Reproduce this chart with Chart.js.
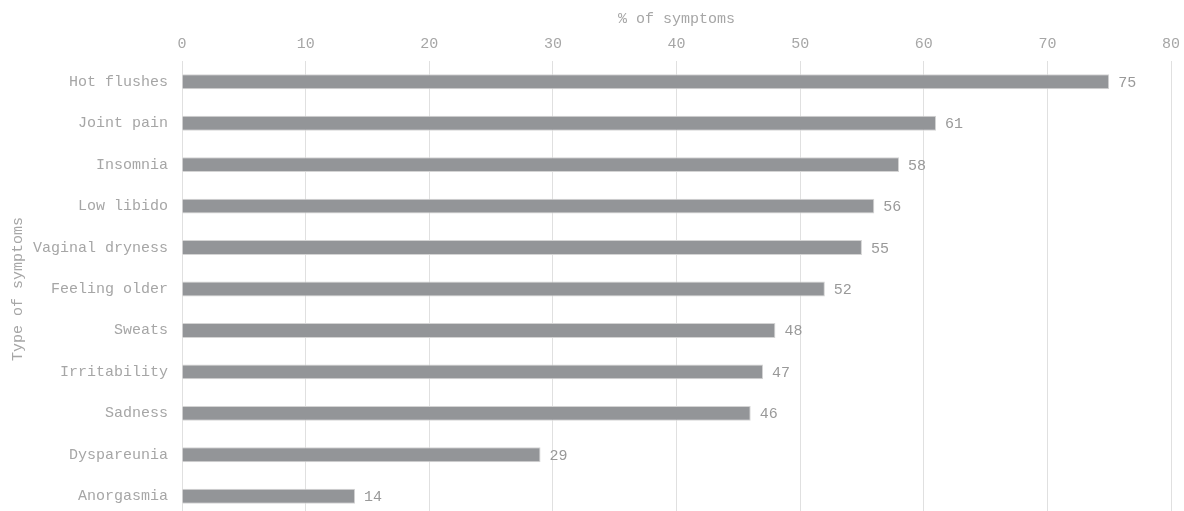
<!DOCTYPE html>
<html>
<head>
<meta charset="utf-8">
<script src="https://cdn.jsdelivr.net/npm/chart.js@4"></script>
<style>
  html, body { margin: 0; padding: 0; background: #fff; overflow: hidden; }
</style>
</head>
<body>
<canvas id="chart" width="1184" height="540"></canvas>
<script>
const symptoms = ['Hot flushes', 'Joint pain', 'Insomnia', 'Low libido', 'Vaginal dryness',
    'Feeling older', 'Sweats', 'Irritability', 'Sadness', 'Dyspareunia', 'Anorgasmia'];
const percentages = [75, 61, 58, 56, 55, 52, 48, 47, 46, 29, 14];
const xMin = 0, xMax = 80, xStep = 10;

const fontFamily = "'Liberation Mono', 'Courier New', monospace";
const textColor = '#a6a6a6';

// draws the value right after each bar
const valueLabels = {
    id: 'valueLabels',
    afterDatasetsDraw(chart) {
        const ctx = chart.ctx;
        ctx.save();
        ctx.font = '15px ' + fontFamily;
        ctx.fillStyle = '#999999';
        ctx.textAlign = 'left';
        ctx.textBaseline = 'middle';
        chart.getDatasetMeta(0).data.forEach((bar, i) => {
            ctx.fillText(percentages[i], bar.x + 9, bar.y + 1);
        });
        ctx.restore();
    }
};

new Chart(document.getElementById('chart'), {
    type: 'bar',
    data: {
        labels: symptoms,
        datasets: [{
            label: '% of symptoms',
            data: percentages,
            backgroundColor: '#939598',
            borderColor: '#d4d4d4',
            borderWidth: 1,
            barPercentage: 0.36,
            categoryPercentage: 1
        }]
    },
    options: {
        indexAxis: 'y',
        responsive: false,
        animation: false,
        layout: { padding: { top: 10, left: 1, right: 13, bottom: 1 } },
        plugins: {
            legend: { display: false },
            tooltip: { enabled: false }
        },
        scales: {
            x: {
                position: 'top',
                min: xMin,
                max: xMax,
                afterFit: s => { s.paddingRight = 0; },
                ticks: { stepSize: xStep, color: textColor, font: { family: fontFamily, size: 15 }, padding: 8 },
                grid: { color: '#e0e0e0', drawTicks: false },
                border: { display: false },
                title: { display: true, text: '% of symptoms', color: textColor, font: { family: fontFamily, size: 15 }, padding: { top: 0, bottom: -1 } }
            },
            y: {
                ticks: { color: textColor, font: { family: fontFamily, size: 15 }, padding: 14 },
                grid: { display: false, drawTicks: false },
                border: { display: false },
                title: { display: true, text: 'Type of symptoms', color: textColor, font: { family: fontFamily, size: 15 }, padding: { top: 8, bottom: -8 } }
            }
        }
    },
    plugins: [valueLabels]
});
</script>
</body>
</html>
